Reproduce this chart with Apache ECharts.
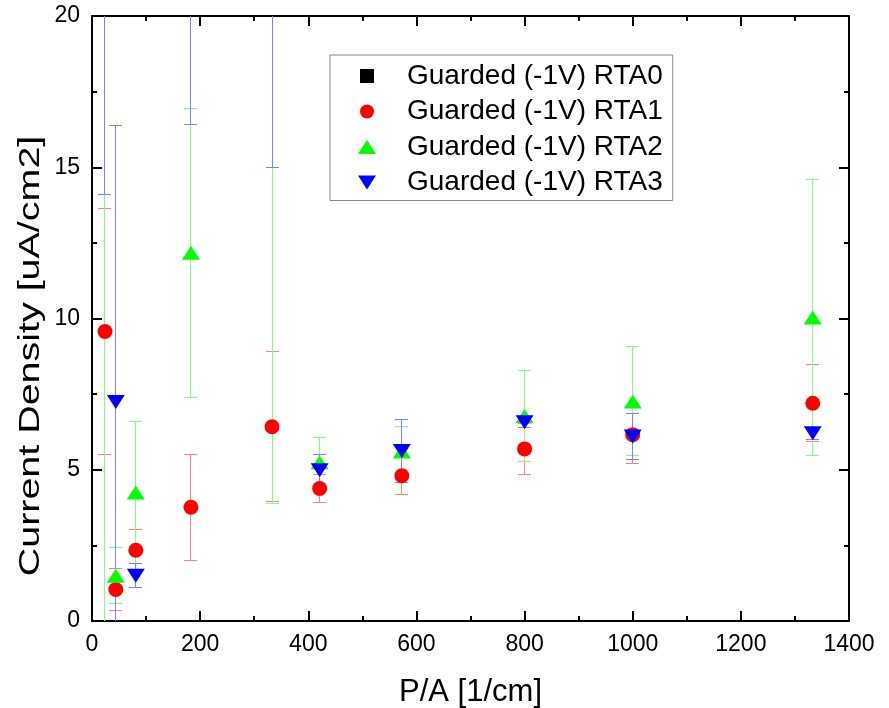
<!DOCTYPE html>
<html>
<head>
<meta charset="utf-8">
<script src="https://cdn.jsdelivr.net/npm/echarts@6/dist/echarts.min.js"></script>
<style>
  html, body { margin: 0; padding: 0; background: #fff; }
  #chart { width: 889px; height: 708px; }
</style>
</head>
<body>
<div id="chart"></div>
<script>
// Perimeter-to-area ratio of each diode (x positions shared by all series)
const pa = [24, 44, 81, 183, 333, 421, 573, 800, 1000, 1333];

// Current density [uA/cm2] and symmetric error for each guarded structure
const rta0Values = [];
const rta0Errors = [];
const rta1Values = [9.57, 1.04, 2.34, 3.76, 6.42, 4.38, 4.80, 5.69, 6.16, 7.20];
const rta1Errors = [4.06, 0.68, 0.68, 1.76, 2.48, 0.46, 0.62, 0.85, 0.96, 1.27];
const rta2Values = [22.0, 1.50, 4.25, 12.17, 21.0, 5.25, 5.60, 6.78, 7.26, 10.03];
const rta2Errors = [23.0, 0.92, 2.35, 4.78, 17.1, 0.80, 0.83, 1.50, 1.80, 4.57];
const rta3Values = [22.0, 7.24, 1.50, 24.0, 25.0, 4.98, 5.62, 6.57, 6.10, 6.21];
const rta3Errors = [7.9, 9.14, 0.40, 7.6, 10.0, 0.54, 1.03, 0.17, 0.77, 0.20];

const seriesNames = [
  'Guarded (-1V) RTA0',
  'Guarded (-1V) RTA1',
  'Guarded (-1V) RTA2',
  'Guarded (-1V) RTA3'
];

const xTicks = { min: 0, max: 1400, interval: 200 };
const yTicks = { min: 0, max: 20, interval: 5 };

const xTitle = 'P/A [1/cm]';
const yTitle = 'Current Density [uA/cm2]';

const FONT = "'Liberation Sans', Arial, sans-serif";

// Marker shapes (legend icons use the same outlines)
const SQUARE = 'path://M0,0L13,0L13,13L0,13Z';
const TRI_UP = 'path://M9,0L18,14L0,14Z';
const TRI_DOWN = 'path://M0,0L18,0L9,14Z';

function points(values) {
  return values.map((v, i) => [pa[i], v]);
}
function bars(values, errors) {
  return values.map((v, i) => [pa[i], v - errors[i], v + errors[i]]);
}

// snap a coordinate to the middle of a pixel so 1px lines stay crisp
const crisp = c => Math.round(c - 0.5) + 0.5;

function errorBarSeries(name, values, errors, color) {
  return {
    name: name + ' err',
    type: 'custom',
    clip: true,
    data: bars(values, errors),
    encode: { x: 0, y: [1, 2] },
    renderItem: function (params, api) {
      const x = api.value(0);
      const lo = api.coord([x, api.value(1)]);
      const hi = api.coord([x, api.value(2)]);
      const cx = crisp(lo[0]);
      const yLo = crisp(lo[1]);
      const yHi = crisp(hi[1]);
      const half = 6.5;
      const style = { stroke: color, lineWidth: 1 };
      return {
        type: 'group',
        children: [
          { type: 'line', shape: { x1: cx, y1: yHi, x2: cx, y2: yLo }, style: style },
          { type: 'line', shape: { x1: cx - half, y1: yHi, x2: cx + half, y2: yHi }, style: style },
          { type: 'line', shape: { x1: cx - half, y1: yLo, x2: cx + half, y2: yLo }, style: style }
        ]
      };
    },
    silent: true,
    z: 3
  };
}

function markerSeries(name, values, symbol, size, color) {
  return {
    name: name,
    type: 'scatter',
    clip: true,
    data: points(values),
    symbol: symbol,
    symbolSize: size,
    itemStyle: { color: color, opacity: 1 },
    z: 3
  };
}

const axisCommon = {
  axisLine: { show: true, onZero: false, lineStyle: { color: '#000', width: 2 } },
  axisTick: { show: true, inside: true, length: 10, lineStyle: { color: '#000', width: 2 } },
  minorTick: { show: true, splitNumber: 2, length: 5, lineStyle: { color: '#000', width: 2 } },
  splitLine: { show: false }
};

const plainNumber = v => String(v);

const chart = echarts.init(document.getElementById('chart'), null, { renderer: 'canvas' });

chart.setOption({
  animation: false,
  backgroundColor: '#fff',
  grid: { left: 92, right: 40, top: 16, bottom: 87, containLabel: false, outerBoundsMode: 'none' },
  legend: {
    data: [
      { name: seriesNames[0], icon: SQUARE },
      { name: seriesNames[1], icon: 'circle' },
      { name: seriesNames[2], icon: TRI_UP },
      { name: seriesNames[3], icon: TRI_DOWN }
    ],
    orient: 'vertical',
    left: 330,
    top: 55,
    itemWidth: 70,
    itemHeight: 14,
    itemGap: 7.5,
    symbolKeepAspect: true,
    padding: [7, 10, 4, 28],
    borderColor: '#888',
    borderWidth: 1,
    backgroundColor: '#fff',
    selectedMode: false,
    textStyle: { fontFamily: FONT, fontSize: 28, color: '#000', lineHeight: 28 }
  },
  graphic: [
    {
      type: 'text',
      x: 31,
      y: 356,
      rotation: Math.PI / 2,
      scaleX: 1.36,
      style: {
        text: yTitle,
        fontFamily: FONT,
        fontSize: 29,
        fill: '#000',
        align: 'center',
        verticalAlign: 'middle'
      }
    }
  ],
  xAxis: [
    Object.assign({}, axisCommon, {
      type: 'value', position: 'bottom',
      min: xTicks.min, max: xTicks.max, interval: xTicks.interval,
      axisLabel: { fontFamily: FONT, fontSize: 23, color: '#000', margin: 12, formatter: plainNumber },
      name: xTitle, nameLocation: 'middle', nameGap: 56,
      nameTextStyle: { fontFamily: FONT, fontSize: 31, color: '#000' }
    }),
    Object.assign({}, axisCommon, {
      type: 'value', position: 'top',
      min: xTicks.min, max: xTicks.max, interval: xTicks.interval,
      axisLabel: { show: false }
    })
  ],
  yAxis: [
    Object.assign({}, axisCommon, {
      type: 'value', position: 'left',
      min: yTicks.min, max: yTicks.max, interval: yTicks.interval,
      axisLabel: { fontFamily: FONT, fontSize: 23, color: '#000', margin: 12, formatter: plainNumber }
    }),
    Object.assign({}, axisCommon, {
      type: 'value', position: 'right',
      min: yTicks.min, max: yTicks.max, interval: yTicks.interval,
      axisLabel: { show: false }
    })
  ],
  series: [
    markerSeries(seriesNames[0], rta0Values, SQUARE, 13, '#000'),
    errorBarSeries(seriesNames[0], rta0Values, rta0Errors, '#808080'),
    markerSeries(seriesNames[1], rta1Values, 'circle', 15, '#ff0000'),
    errorBarSeries(seriesNames[1], rta1Values, rta1Errors, '#ff8080'),
    markerSeries(seriesNames[2], rta2Values, TRI_UP, [18, 14], '#00ff00'),
    errorBarSeries(seriesNames[2], rta2Values, rta2Errors, '#80ff80'),
    markerSeries(seriesNames[3], rta3Values, TRI_DOWN, [18, 14], '#0000ff'),
    errorBarSeries(seriesNames[3], rta3Values, rta3Errors, '#8080ff')
  ]
});
</script>
</body>
</html>
